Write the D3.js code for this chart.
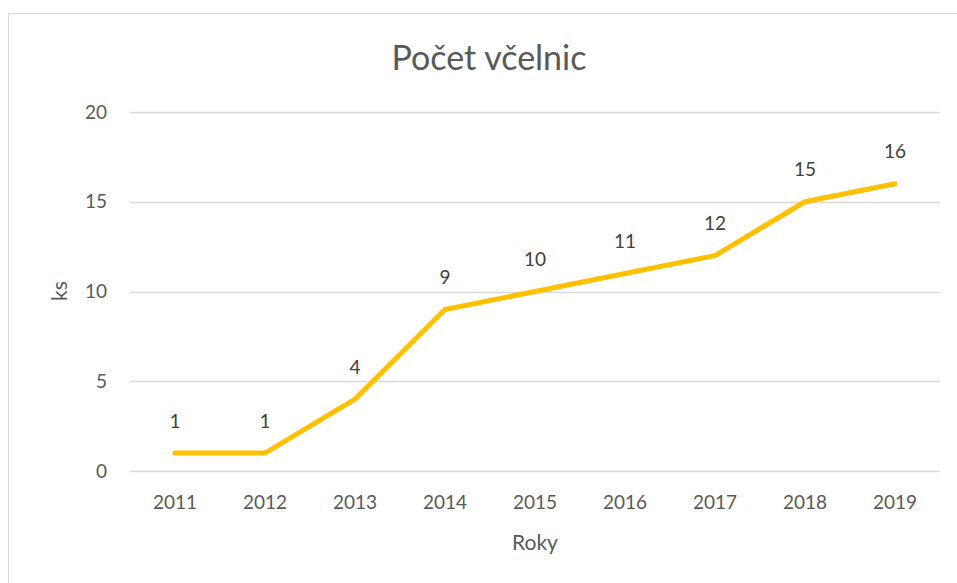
<!DOCTYPE html>
<html><head><meta charset="utf-8">
<script src="https://cdn.jsdelivr.net/npm/d3@7"></script>
<style>body{margin:0;background:#fff;} svg{display:block;font-family:Lato,"Open Sans",sans-serif;}</style>
</head><body>
<svg id="c" width="957" height="583"></svg>
<script>
const years = ["2011","2012","2013","2014","2015","2016","2017","2018","2019"];
const values = [1,1,4,9,10,11,12,15,16];
const yTicks = [0,5,10,15,20];
const title = "Počet včelnic";
const yTitle = "ks";
const xTitle = "Roky";

const svg = d3.select("#c");
svg.append("rect").attr("x",8.5).attr("y",13.5).attr("width",980).attr("height",600)
  .attr("fill","#fff").attr("stroke","#d9d9d9").attr("stroke-width",1);

const x = d3.scaleBand().domain(years).range([130,940]);
const y = d3.scaleLinear().domain([0,20]).range([471,112]);
const txt = "#595959";

svg.append("g").selectAll("line").data(yTicks).join("line")
  .attr("x1",130).attr("x2",940).attr("y1",d=>Math.round(y(d))+0.5).attr("y2",d=>Math.round(y(d))+0.5)
  .attr("stroke","#d9d9d9").attr("stroke-width",1.3);

svg.append("g").selectAll("text").data(yTicks).join("text")
  .attr("x",107).attr("y",d=>y(d)).attr("dy","0.35em").attr("text-anchor","end")
  .attr("fill",txt).attr("font-size",19).text(d=>d);

svg.append("g").selectAll("text").data(years).join("text")
  .attr("x",d=>x(d)+x.bandwidth()/2).attr("y",502).attr("dy","0.35em").attr("text-anchor","middle")
  .attr("fill",txt).attr("font-size",19).text(d=>d);

const line = d3.line().x((d,i)=>x(years[i])+x.bandwidth()/2).y(d=>y(d));
svg.append("path").datum(values).attr("d",line).attr("fill","none")
  .attr("stroke","#FFC000").attr("stroke-width",5).attr("stroke-linecap","round").attr("stroke-linejoin","round");

svg.append("g").selectAll("text").data(values).join("text")
  .attr("x",(d,i)=>x(years[i])+x.bandwidth()/2).attr("y",d=>y(d)-32).attr("dy","0.35em").attr("text-anchor","middle")
  .attr("fill","#404040").attr("font-size",19).text(d=>d);

svg.append("text").attr("x",489).attr("y",58).attr("dy","0.35em").attr("text-anchor","middle")
  .attr("fill",txt).attr("font-size",34).text(title);
svg.append("text").attr("transform","translate(60,291) rotate(-90)").attr("dy","0.35em").attr("text-anchor","middle")
  .attr("fill",txt).attr("font-size",21).text(yTitle);
svg.append("text").attr("x",535).attr("y",543).attr("dy","0.35em").attr("text-anchor","middle")
  .attr("fill",txt).attr("font-size",21).text(xTitle);
</script>
</body></html>
